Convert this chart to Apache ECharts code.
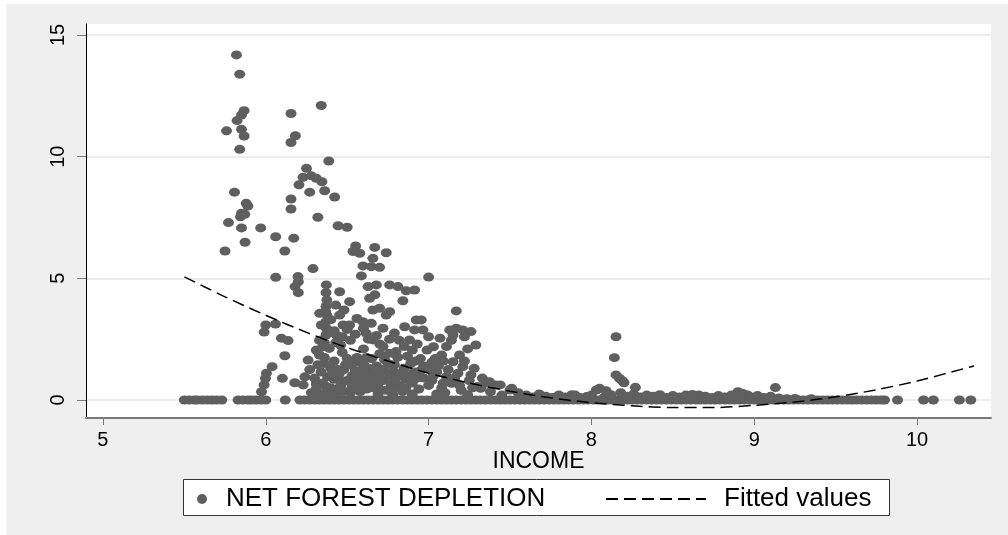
<!DOCTYPE html>
<html>
<head>
<meta charset="utf-8">
<script src="https://cdn.jsdelivr.net/npm/echarts@6/dist/echarts.min.js"></script>
<style>
html,body{margin:0;padding:0;background:#fff;}
#chart{width:1008px;height:535px;}
</style>
</head>
<body>
<div id="chart"></div>
<script>
// ---- data ----
const xTickValues = [5, 6, 7, 8, 9, 10];
const yTickValues = [0, 5, 10, 15];

// observations with NET FOREST DEPLETION = 0 (INCOME values)
const zeroRowIncome = [
  5.50,5.53,5.56,5.58,5.61,5.64,5.67,5.70,5.73,
  5.83,5.86,5.89,5.91,5.94,5.97,6.00,
  6.12,
  6.21,6.24,6.27,6.30,6.33,6.36,6.39,6.42,6.45,6.48,6.51,6.54,6.57,6.60,6.63,6.66,6.69,6.72,6.75,6.78,6.81,6.84,6.87,6.90,
  6.93,6.96,6.99,7.02,7.05,7.08,7.11,7.14,7.17,7.20,7.23,7.26,7.29,7.32,7.35,7.38,7.41,7.44,7.47,7.50,7.53,7.56,7.59,
  7.62,7.65,7.68,7.71,7.74,7.77,7.80,7.83,7.86,7.89,7.92,7.95,7.98,8.01,8.04,8.07,8.10,8.13,8.16,8.19,8.22,8.25,8.28,
  8.31,8.34,8.37,8.40,8.43,8.46,8.49,8.52,8.55,8.58,8.61,8.64,8.67,8.70,8.73,8.76,8.79,8.82,8.85,8.88,8.91,8.94,8.97,
  9.00,9.03,9.06,9.09,9.12,9.15,9.18,9.21,9.24,9.27,9.30,9.33,9.36,9.39,9.42,9.45,9.48,9.51,9.54,9.57,9.60,9.63,9.66,
  9.69,9.72,9.75,9.78,9.80,
  9.88,10.04,10.10,10.26,10.33
];

// [INCOME, NET FOREST DEPLETION] below income 6
const pointsBelow6 = [
  [5.82,14.18],[5.84,13.39],[5.867,11.89],[5.851,11.71],[5.824,11.48],[5.759,11.06],[5.851,11.12],
  [5.867,10.85],[5.84,10.3],[5.808,8.54],[5.88,8.08],[5.89,7.97],[5.851,7.67],[5.871,7.63],[5.845,7.53],
  [5.771,7.29],[5.851,7.07],[5.873,6.48],[5.75,6.12],[5.969,7.07],[5.974,0.34],[5.99,0.62],[5.998,0.89],
  [5.99,2.79],[6.0,3.08]
];

// income 6 to 6.5
const points6to65 = [
  [6.004,1.1],[6.039,1.37],[6.06,3.12],[6.096,2.54],[6.137,2.44],[6.117,1.82],[6.102,0.89],[6.178,0.71],
  [6.23,0.62],[6.061,6.71],[6.061,5.04],[6.117,6.12],[6.155,11.77],[6.182,10.86],[6.155,10.58],[6.155,8.26],
  [6.155,7.85],[6.172,6.65],[6.198,5.07],[6.2,4.86],[6.18,4.66],[6.2,4.41],[6.29,5.4],[6.341,12.1],
  [6.387,9.82],[6.25,9.52],[6.229,9.15],[6.28,9.21],[6.31,9.11],[6.345,8.97],[6.204,8.84],[6.27,8.54],
  [6.362,8.6],[6.423,8.34],[6.32,7.51],[6.444,7.16],[6.5,7.1],
  [6.372,4.73],[6.37,4.41],[6.375,4.11],[6.37,3.84],[6.368,3.63],[6.375,3.49],[6.37,3.22],[6.372,2.95],
  [6.37,2.67],[6.454,4.45],[6.331,3.56],[6.454,3.49],[6.475,3.08],[6.341,3.08],[6.433,2.67],
  [6.35,2.19],[6.39,2.12],[6.31,2.05],[6.33,1.85],[6.26,1.64],[6.31,0.66],[6.37,0.55],
  [6.36,1.5],[6.4,1.3],[6.47,1.95],[6.5,1.7],[6.49,1.45],[6.45,1.05],[6.42,0.85],[6.38,0.95],
  [6.35,0.7],[6.4,0.5],[6.46,0.6],[6.5,0.8],[6.48,0.35],[6.44,0.28],[6.34,1.15],[6.3,0.9],
  [6.48,1.25],[6.28,0.3],[6.33,0.25],[6.39,0.22],[6.24,0.95],[6.27,1.25],[6.43,2.35],[6.46,2.25],
  [6.32,1.45],[6.36,1.75],[6.42,1.6],[6.44,1.25],[6.41,1.05],[6.47,0.75],[6.38,0.4],[6.31,0.45],
  [6.45,0.45],[6.33,2.45],[6.36,2.35],[6.42,2.85],[6.47,2.6],[6.4,3.3],[6.43,3.9],[6.48,3.7]
];

// income 6.5 to 7
const points65to7 = [
  [6.515,4.04],[6.552,6.33],[6.536,6.1],[6.577,6.03],[6.669,6.27],[6.74,6.05],[6.658,5.82],[6.597,5.51],
  [6.648,5.48],[6.699,5.45],[6.587,5.1],[6.515,3.08],[6.628,4.66],[6.679,4.73],[6.761,4.73],[6.812,4.66],
  [6.863,4.49],[6.914,4.52],[6.638,4.18],[6.67,4.32],[6.842,4.08],[6.658,3.7],[6.699,3.77],[6.761,3.63],
  [6.74,3.49],[6.597,3.22],[6.648,3.15],[6.72,2.95],[6.617,2.74],[6.658,2.47],[6.853,3.01],[6.924,3.29],
  [6.914,2.88],[6.883,2.47],[6.8,1.99],[6.761,1.92],[6.955,3.29],[6.965,2.88],
  [6.52,1.45],[6.55,1.2],[6.58,1.0],[6.54,0.7],[6.57,0.5],[6.6,0.75],[6.62,1.1],[6.52,0.3],[6.58,0.35],
  [6.62,0.45],[6.56,1.75],[6.6,1.5],[6.63,1.3],[6.65,1.7],[6.68,1.4],[6.7,1.1],[6.72,0.8],[6.75,1.5],
  [6.78,1.2],[6.8,0.9],[6.82,0.6],[6.85,1.3],[6.88,1.0],[6.9,0.7],[6.92,1.6],[6.95,1.2],[6.66,0.5],
  [6.74,0.4],[6.84,0.35],[6.94,0.45],[6.7,1.9],[6.64,0.9],[6.87,1.8],[6.97,0.9],[6.69,0.25],[6.78,0.22],
  [6.9,0.25],[6.6,2.1],[6.7,2.3],[6.82,2.45],
  [6.53,1.0],[6.56,0.9],[6.59,1.25],[6.55,1.55],[6.62,1.75],[6.65,1.1],[6.67,0.8],[6.69,0.55],[6.72,1.25],
  [6.73,1.65],[6.76,1.0],[6.77,0.65],[6.79,1.45],[6.81,1.75],[6.83,1.1],[6.86,0.85],[6.89,1.5],[6.91,1.15],
  [6.93,0.9],[6.95,1.7],[6.97,1.4],[6.86,0.5],[6.78,0.45],[6.62,0.6],[6.53,0.55],
  [6.5,2.9],[6.52,2.45],[6.55,2.7],[6.56,3.35],[6.6,2.95],[6.63,2.5],[6.68,2.65],[6.72,2.2],[6.76,2.5],
  [6.79,2.75],[6.85,2.2],[6.9,2.05],[6.93,2.3]
];

// income 7 and above
const pointsAbove7 = [
  [7.0,5.05],[7.0,0.6],[7.03,1.0],[7.06,1.4],[7.08,0.5],[7.11,0.96],[7.14,0.69],[7.15,1.57],[7.19,1.85],
  [7.21,1.37],[7.28,1.3],[7.26,1.03],[7.3,0.55],[7.35,0.69],[7.41,0.62],[7.32,0.48],[7.5,0.41],[7.38,0.34],
  [7.44,0.62],[7.51,0.48],[7.374,0.75],[7.2,0.4],[7.1,0.3],[7.0,1.3],[7.04,1.7],[6.99,2.05],[7.08,1.85],
  [7.03,2.19],[7.07,2.54],[7.0,2.6],[7.13,2.88],[7.17,2.95],[7.21,2.88],[7.26,2.81],[7.15,2.67],[7.22,2.6],
  [7.29,2.26],[7.17,3.66],[7.25,0.8],[7.18,1.1],[7.05,0.25],[7.24,0.22],[7.45,0.2],
  [7.02,0.8],[7.05,1.15],[7.09,1.6],[7.12,1.25],[7.16,0.9],[7.19,0.6],[7.22,1.6],[7.24,2.1],[7.11,2.2],
  [7.14,2.45],[7.27,0.5],[7.33,0.9],[7.09,0.7],[7.02,1.55],
  [7.55,0.3],[7.6,0.2],[7.64,0.12],[7.68,0.25],[7.72,0.15],[7.76,0.1],[7.8,0.2],[7.84,0.12],[7.88,0.22],
  [7.9,0.2],[7.93,0.1],[7.97,0.14],[8.0,0.2],[8.03,0.41],[8.05,0.48],[8.09,0.38],[8.08,0.12],[8.12,0.22],
  [8.151,2.6],[8.141,1.74],[8.151,1.03],[8.172,0.89],[8.19,0.79],[8.2,0.71],[8.18,0.3],[8.22,0.15],
  [8.27,0.52],[8.26,0.25],[8.3,0.12],[8.34,0.2],[8.38,0.15],[8.42,0.22],[8.46,0.1],[8.5,0.18],[8.54,0.12],
  [8.58,0.2],[8.62,0.23],[8.66,0.2],[8.7,0.15],[8.74,0.1],[8.78,0.18],[8.82,0.12],[8.86,0.2],[8.9,0.34],
  [8.93,0.27],[8.96,0.2],[8.98,0.12],[9.02,0.18],[9.06,0.1],[9.1,0.15],[9.13,0.51],[9.15,0.08],[9.2,0.05],
  [9.25,0.06],[9.35,0.05]
];

// fitted values (quadratic fit line)
const fitIncome = [5.5,5.75,6.0,6.25,6.5,6.75,7.0,7.25,7.5,7.75,8.0,8.25,8.5,8.75,9.0,9.25,9.5,9.75,10.0,10.35];
const fitValues = [5.06,4.24,3.48,2.78,2.15,1.6,1.1,0.7,0.36,0.09,-0.11,-0.24,-0.31,-0.31,-0.22,-0.08,0.13,0.42,0.78,1.4];

// ---- build chart ----
const FONT = "'Liberation Sans', Arial, Helvetica, sans-serif";
const scatterData = zeroRowIncome.map(x => [x, 0])
  .concat(pointsBelow6, points6to65, points65to7, pointsAbove7);
const fitData = fitIncome.map((x, i) => [x, fitValues[i]]);

const chart = echarts.init(document.getElementById('chart'), null, {renderer: 'canvas'});
chart.setOption({
  backgroundColor: '#ffffff',
  animation: false,
  textStyle: {fontFamily: FONT},
  graphic: [
    {type: 'rect', z: -10, silent: true, shape: {x: 6, y: 4, width: 1002, height: 531}, style: {fill: '#efefef'}},
    {type: 'rect', z: 1, silent: true, shape: {x: 183.5, y: 479.5, width: 706, height: 36}, style: {fill: '#ffffff', stroke: '#333333', lineWidth: 1}}
  ],
  grid: {left: 86, top: 24, right: 17, bottom: 117, show: true, backgroundColor: '#ffffff', borderWidth: 0},
  legend: [
    {
      data: ['NET FOREST DEPLETION'], left: 197, top: 486, padding: 0, z: 5,
      itemWidth: 10, itemHeight: 10, selectedMode: false,
      textStyle: {fontSize: 26, color: '#000', fontFamily: FONT, padding: [0, 0, 0, 14]}
    },
    {
      data: ['Fitted values'], left: 605, top: 486, padding: 0, z: 5,
      itemWidth: 100, itemHeight: 14, selectedMode: false,
      itemStyle: {color: 'rgba(0,0,0,0)', borderColor: 'rgba(0,0,0,0)', borderWidth: 0},
      textStyle: {fontSize: 26, color: '#000', fontFamily: FONT, padding: [0, 0, 0, 13]}
    }
  ],
  xAxis: {
    type: 'value', min: 4.896, max: 10.454,
    name: 'INCOME', nameLocation: 'middle', nameGap: 32, nameMoveOverlap: false,
    nameTextStyle: {fontSize: 23, color: '#000', fontFamily: FONT},
    axisLine: {show: true, onZero: false, lineStyle: {color: '#7a7a7a', width: 2}},
    axisTick: {show: true, customValues: xTickValues, length: 7, lineStyle: {color: '#7a7a7a', width: 1}},
    axisLabel: {customValues: xTickValues, fontSize: 20, color: '#000', margin: 12, fontFamily: FONT},
    splitLine: {show: false}
  },
  yAxis: {
    type: 'value', min: -0.74, max: 15.45,
    axisLine: {show: true, onZero: false, lineStyle: {color: '#000', width: 1}},
    axisTick: {show: true, customValues: yTickValues, length: 9, lineStyle: {color: '#7a7a7a', width: 1}},
    axisLabel: {customValues: yTickValues, rotate: 90, fontSize: 20, color: '#000', margin: 18, fontFamily: FONT},
    splitLine: {show: true, lineStyle: {color: '#e6e6e6', width: 1.5}}
  },
  series: [
    {
      name: 'NET FOREST DEPLETION', type: 'scatter', data: scatterData,
      symbol: 'circle', symbolSize: [11, 9],
      itemStyle: {color: '#5f5f5f', opacity: 1},
      emphasis: {disabled: true}, z: 2
    },
    {
      name: 'Fitted values', type: 'line', data: fitData, smooth: 0.3,
      showSymbol: false, symbol: 'none',
      lineStyle: {color: '#000', width: 1.5, type: [12, 6]},
      itemStyle: {color: '#000'},
      emphasis: {disabled: true}, z: 3
    }
  ]
});
</script>
</body>
</html>
